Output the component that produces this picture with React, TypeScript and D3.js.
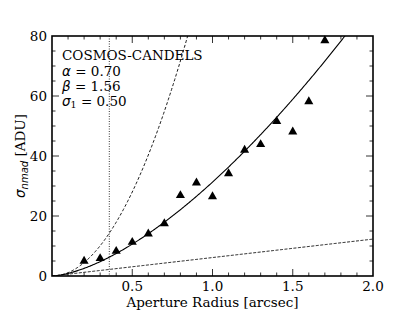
import React from "react";
import * as d3 from "d3";

const apertureRadius = [0.2, 0.3, 0.4, 0.5, 0.6, 0.7, 0.8, 0.9, 1.0, 1.1, 1.2, 1.3, 1.4, 1.5, 1.6, 1.7];
const sigmaNmad = [4.8, 5.7, 8.1, 11.1, 13.9, 17.3, 26.7, 30.9, 26.3, 34.0, 41.8, 43.7, 51.4, 47.9, 58.0, 78.3];
const xTicks = [0.5, 1.0, 1.5, 2.0];
const yTicks = [0, 20, 40, 60, 80];
const annotation = ["COSMOS-CANDELS"];
// model parameters
const fitAmp = 31.3;
const fitBeta = 1.56;
const quadAmp = 112;
const linSlope = 6.15;
const vLineX = 0.357;

const W = 415, H = 311;
const m = { l: 52, r: 373, t: 36, b: 276 };

export default function App() {
  const x = d3.scaleLinear().domain([0, 2]).range([m.l, m.r]);
  const y = d3.scaleLinear().domain([0, 80]).range([m.b, m.t]);
  const grid = d3.range(0, 2.0001, 0.005);
  const line = d3.line<[number, number]>().x(d => x(d[0])).y(d => y(d[1]));
  const clip = (f: (v: number) => number) => grid.map(v => [v, f(v)] as [number, number]).filter(d => d[1] <= 82);
  const solid = line(clip(v => fitAmp * Math.pow(v, fitBeta)))!;
  const quad = line(clip(v => quadAmp * v * v))!;
  const lin = line(clip(v => linSlope * v))!;
  const tri = d3.symbol().type(d3.symbolTriangle).size(36)()!;
  const xMinor = d3.range(0.1, 2.0, 0.1);
  const yMinor = d3.range(5, 80, 5);
  const font = "'DejaVu Serif', serif";
  const math = "'DejaVu Sans', sans-serif";
  const fs = 13.5;
  return (
    <svg width={W} height={H} style={{ position: "absolute", left: 0, top: 0 }} fontFamily={font}>
      <rect width={W} height={H} fill="white" />
      <defs>
        <clipPath id="pa"><rect x={m.l} y={m.t} width={m.r - m.l} height={m.b - m.t} /></clipPath>
      </defs>
      <g clipPath="url(#pa)" fill="none" stroke="black">
        <line x1={x(vLineX)} x2={x(vLineX)} y1={m.t} y2={m.b} strokeWidth={0.8} strokeDasharray="1,1.5" />
        <path d={quad} strokeWidth={0.9} strokeDasharray="3,2" />
        <path d={lin} strokeWidth={0.9} strokeDasharray="3,1.5" />
        <path d={solid} strokeWidth={1.1} />
      </g>
      {apertureRadius.map((v, i) => (
        <path key={i} d={tri} transform={`translate(${x(v)},${y(sigmaNmad[i]) - 0.5})`} fill="black" />
      ))}
      <g stroke="black">
        {xMinor.map((v, i) => {
          const major = Math.abs(v * 2 - Math.round(v * 2)) < 1e-6;
          const len = major ? 7 : 3.5;
          return (
            <g key={i}>
              <line x1={x(v)} x2={x(v)} y1={m.b} y2={m.b - len} strokeWidth={0.8} />
              <line x1={x(v)} x2={x(v)} y1={m.t} y2={m.t + len} strokeWidth={0.8} />
            </g>
          );
        })}
        {yMinor.map((v, i) => {
          const major = v % 20 === 0;
          const len = major ? 7 : 3.5;
          return (
            <g key={i}>
              <line x1={m.l} x2={m.l + len} y1={y(v)} y2={y(v)} strokeWidth={0.8} />
              <line x1={m.r} x2={m.r - len} y1={y(v)} y2={y(v)} strokeWidth={0.8} />
            </g>
          );
        })}
      </g>
      <rect x={m.l} y={m.t} width={m.r - m.l} height={m.b - m.t} fill="none" stroke="black" strokeWidth={1.6} />
      {xTicks.map((v, i) => (
        <text key={i} x={x(v)} y={290.5} textAnchor="middle" fontSize={fs}>{v.toFixed(1)}</text>
      ))}
      {yTicks.map((v, i) => (
        <text key={i} x={m.l - 5} y={y(v) + 5} textAnchor="end" fontSize={fs}>{v}</text>
      ))}
      <text x={(m.l + m.r) / 2} y={306.5} textAnchor="middle" fontSize={fs}>Aperture Radius [arcsec]</text>
      <text transform={`translate(25,${(m.t + m.b) / 2}) rotate(-90)`} textAnchor="middle" fontSize={fs}>
        <tspan fontFamily={math} fontStyle="italic">σ</tspan>
        <tspan fontFamily={math} fontStyle="italic" fontSize={10} dy={3}>nmad</tspan>
        <tspan dy={-3}> [ADU]</tspan>
      </text>
      <g fontSize={fs}>
        <text x={62} y={59.5}>{annotation[0]}</text>
        <text x={62} y={75.5}><tspan fontFamily={math} fontStyle="italic">α</tspan> = 0.70</text>
        <text x={62} y={90.5}><tspan fontFamily={math} fontStyle="italic">β</tspan> = 1.56</text>
        <text x={62} y={105.5}><tspan fontFamily={math} fontStyle="italic">σ</tspan><tspan fontSize={9.5} dy={2.5}>1</tspan><tspan dy={-2.5}> = 0.50</tspan></text>
      </g>
    </svg>
  );
}
